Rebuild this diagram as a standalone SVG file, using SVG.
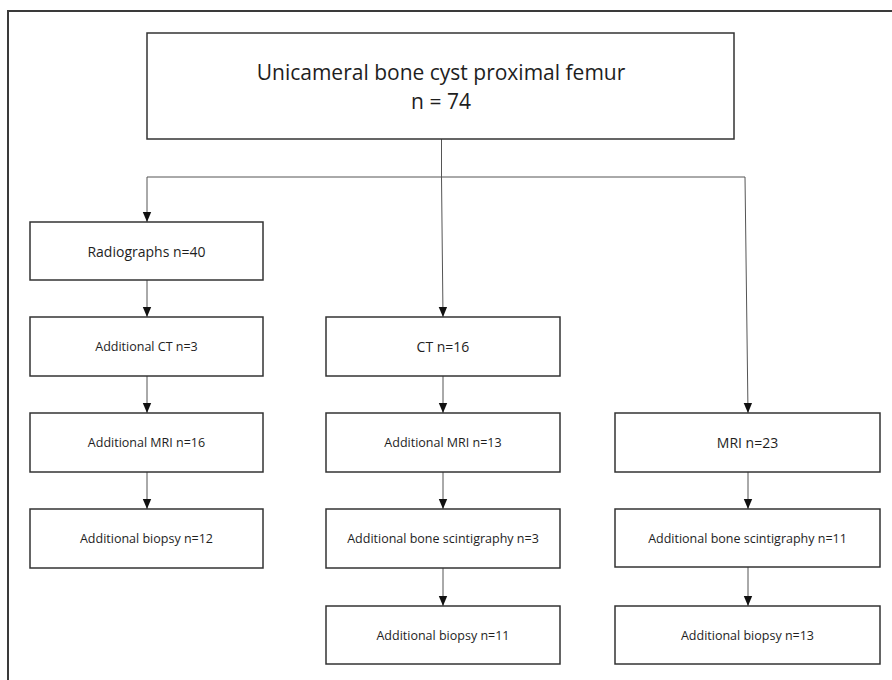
<svg xmlns="http://www.w3.org/2000/svg" width="892" height="680" viewBox="0 0 892 680">
<style>
  .box { fill: #ffffff; stroke: #333333; stroke-width: 1.5; }
  .frame { fill: none; stroke: #3a3a3a; stroke-width: 2; }
  .conn { fill: none; stroke: #555555; stroke-width: 1; }
  .arrow { fill: none; stroke: #555555; stroke-width: 1; marker-end: url(#ah); }
  text { font-family: "Open Sans", "Liberation Sans", sans-serif; fill: #1e1e1e; text-anchor: middle; }
  .big { font-size: 21px; }
  .mid { font-size: 14px; }
  .sm { font-size: 12.5px; }
</style>
<defs>
  <marker id="ah" markerUnits="userSpaceOnUse" markerWidth="10" markerHeight="10" viewBox="0 0 10 10" refX="10" refY="5" orient="auto">
    <path d="M0,0.8 L10,5 L0,9.2 Z" fill="#111111"/>
  </marker>
</defs>
<rect width="892" height="680" fill="#ffffff"/>
<path class="frame" d="M8,681 V11 H893"/>

<g id="connectors">
  <path class="conn" d="M441.5,139 V177"/>
  <path class="conn" d="M147,177 H745"/>
  <path class="arrow" d="M147,177 V222"/>
  <path class="arrow" d="M441.5,177 L443,317"/>
  <path class="arrow" d="M745,177 L748,413"/>
  <path class="arrow" d="M147,280 V317"/>
  <path class="arrow" d="M147,376 V413"/>
  <path class="arrow" d="M147,472 V509"/>
  <path class="arrow" d="M443,376 V413"/>
  <path class="arrow" d="M443,472 V509"/>
  <path class="arrow" d="M443,568 V606"/>
  <path class="arrow" d="M748,472 V509"/>
  <path class="arrow" d="M748,567 V606"/>
</g>

<g id="top">
  <rect class="box" x="147" y="33" width="587" height="106"/>
  <text class="big" x="441" y="80">Unicameral bone cyst proximal femur</text>
  <text class="big" x="441" y="109">n = 74</text>
</g>

<g id="radiographs">
  <rect class="box" x="30" y="222" width="233" height="58"/>
  <text class="mid" x="146.5" y="256.5">Radiographs n=40</text>
</g>
<g id="add-ct">
  <rect class="box" x="30" y="317" width="233" height="59"/>
  <text class="sm" x="146.5" y="351">Additional CT n=3</text>
</g>
<g id="add-mri-16">
  <rect class="box" x="30" y="413" width="233" height="59"/>
  <text class="sm" x="146.5" y="447">Additional MRI n=16</text>
</g>
<g id="biopsy-12">
  <rect class="box" x="30" y="509" width="233" height="59"/>
  <text class="sm" x="146.5" y="543">Additional biopsy n=12</text>
</g>

<g id="ct">
  <rect class="box" x="326" y="317" width="234" height="59"/>
  <text class="mid" x="443" y="351.5">CT n=16</text>
</g>
<g id="add-mri-13">
  <rect class="box" x="326" y="413" width="234" height="59"/>
  <text class="sm" x="443" y="447">Additional MRI n=13</text>
</g>
<g id="scint-3">
  <rect class="box" x="326" y="509" width="234" height="59"/>
  <text class="sm" x="443" y="543">Additional bone scintigraphy n=3</text>
</g>
<g id="biopsy-11">
  <rect class="box" x="326" y="606" width="234" height="58"/>
  <text class="sm" x="443" y="639.5">Additional biopsy n=11</text>
</g>

<g id="mri">
  <rect class="box" x="615" y="413" width="265" height="59"/>
  <text class="mid" x="747.5" y="447.5">MRI n=23</text>
</g>
<g id="scint-11">
  <rect class="box" x="615" y="509" width="265" height="58"/>
  <text class="sm" x="747.5" y="542.5">Additional bone scintigraphy n=11</text>
</g>
<g id="biopsy-13">
  <rect class="box" x="615" y="606" width="265" height="58"/>
  <text class="sm" x="747.5" y="639.5">Additional biopsy n=13</text>
</g>
</svg>
